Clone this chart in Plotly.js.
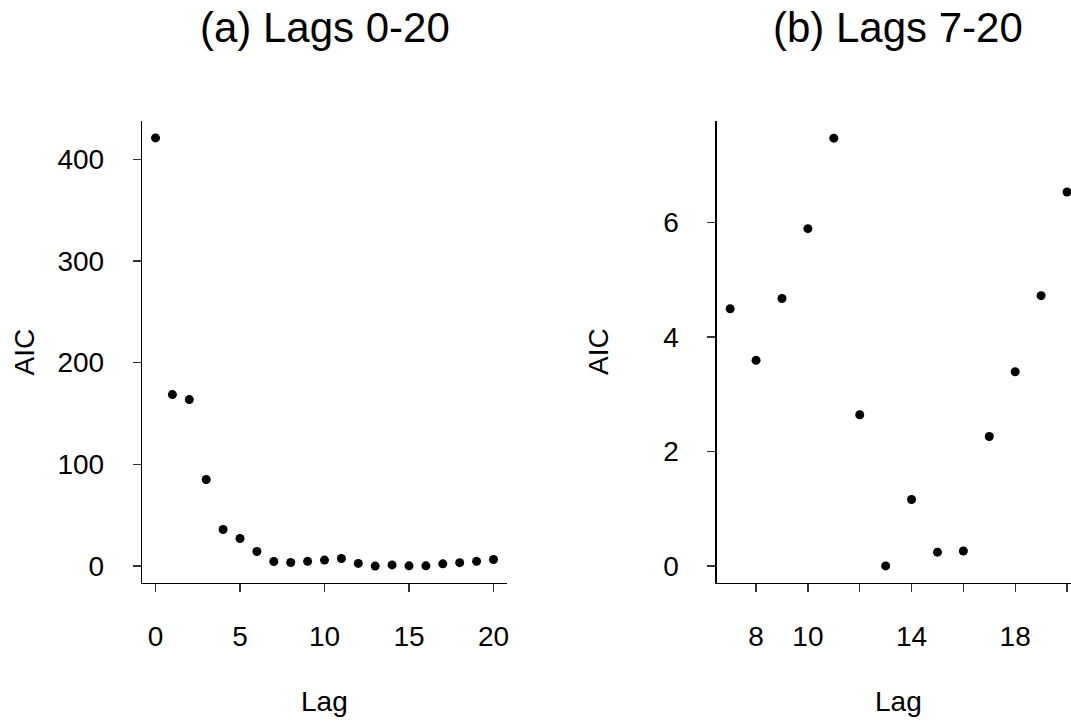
<!DOCTYPE html>
<html>
<head>
<meta charset="utf-8">
<script src="https://cdn.plot.ly/plotly-3.0.1.min.js"></script>
<style>html,body{margin:0;padding:0;background:#fff;}#chart{width:1071px;height:721px;}</style>
</head>
<body>
<div id="chart"></div>
<script>
// ---- data ----
const lagsAll = [0,1,2,3,4,5,6,7,8,9,10,11,12,13,14,15,16,17,18,19,20];
const aicAll = [421, 168.6, 163.7, 85.1, 36.0, 27.1, 14.4, 4.49, 3.59, 4.67, 5.89, 7.47, 2.64, 0, 1.16, 0.24, 0.26, 2.26, 3.39, 4.72, 6.53];
const lagsSub = [7,8,9,10,11,12,13,14,15,16,17,18,19,20];
const aicSub = [4.49, 3.59, 4.67, 5.89, 7.47, 2.64, 0, 1.16, 0.24, 0.26, 2.26, 3.39, 4.72, 6.53];

const xTicksA = [0,5,10,15,20];
const yTicksA = [0,100,200,300,400];
const xTicksB = [8,10,12,14,16,18,20];
const xTickTextB = ['8','10','','14','','18',''];
const yTicksB = [0,2,4,6];

const titleA = '(a) Lags 0-20';
const titleB = '(b) Lags 7-20';
const xLabel = 'Lag';
const yLabel = 'AIC';

// ---- layout helpers ----
const W = 1071, H = 721;
const FONT = 'Liberation Sans, Arial, Helvetica, sans-serif';
const px = v => v / W;
const py = v => 1 - v / H;

const marker = {color: '#000', size: 9};

const traces = [
  {x: lagsAll, y: aicAll, type: 'scatter', mode: 'markers', marker: marker, xaxis: 'x', yaxis: 'y', cliponaxis: false, hoverinfo: 'x+y'},
  {x: lagsSub, y: aicSub, type: 'scatter', mode: 'markers', marker: marker, xaxis: 'x2', yaxis: 'y2', cliponaxis: false, hoverinfo: 'x+y'}
];

const axisCommon = {
  showgrid: false, zeroline: false, showline: true, linecolor: '#000', linewidth: 1.3,
  ticks: 'outside', ticklen: 8, tickwidth: 1.3, tickcolor: '#333',
  tickfont: {family: FONT, size: 28, color: '#000'}, fixedrange: true
};

const layout = {
  width: W, height: H,
  margin: {l: 0, r: 0, t: 0, b: 0},
  paper_bgcolor: '#fff', plot_bgcolor: '#fff',
  showlegend: false,
  font: {family: FONT, color: '#000'},
  xaxis: Object.assign({}, axisCommon, {
    domain: [px(142), px(507)], range: [-0.8, 20.8],
    tickmode: 'array', tickvals: xTicksA, ticktext: xTicksA.map(String),
    anchor: 'y', ticklabelstandoff: 20
  }),
  yaxis: Object.assign({}, axisCommon, {
    domain: [py(583), py(121)], range: [-16.6, 437.6],
    tickmode: 'array', tickvals: yTicksA, ticktext: yTicksA.map(String),
    anchor: 'x', ticklabelstandoff: 23
  }),
  xaxis2: Object.assign({}, axisCommon, {
    domain: [px(716.7), 1], range: [6.48, 20.154],
    tickmode: 'array', tickvals: xTicksB, ticktext: xTickTextB,
    anchor: 'y2', ticklabelstandoff: 20
  }),
  yaxis2: Object.assign({}, axisCommon, {
    domain: [py(583), py(121)], range: [-0.299, 7.77],
    tickmode: 'array', tickvals: yTicksB, ticktext: yTicksB.map(String),
    anchor: 'x2', ticklabelstandoff: 23
  }),
  annotations: [
    {text: titleA, xref: 'paper', yref: 'paper', x: px(324.5), y: py(28), xanchor: 'center', yanchor: 'middle', showarrow: false, font: {family: FONT, size: 42, color: '#000'}},
    {text: titleB, xref: 'paper', yref: 'paper', x: px(898), y: py(28), xanchor: 'center', yanchor: 'middle', showarrow: false, font: {family: FONT, size: 42, color: '#000'}},
    {text: xLabel, xref: 'paper', yref: 'paper', x: px(324.5), y: py(701), xanchor: 'center', yanchor: 'middle', showarrow: false, font: {family: FONT, size: 28, color: '#000'}},
    {text: xLabel, xref: 'paper', yref: 'paper', x: px(898), y: py(701), xanchor: 'center', yanchor: 'middle', showarrow: false, font: {family: FONT, size: 28, color: '#000'}},
    {text: yLabel, xref: 'paper', yref: 'paper', x: px(23.5), y: py(352), xanchor: 'center', yanchor: 'middle', textangle: -90, showarrow: false, font: {family: FONT, size: 28, color: '#000'}},
    {text: yLabel, xref: 'paper', yref: 'paper', x: px(598), y: py(352), xanchor: 'center', yanchor: 'middle', textangle: -90, showarrow: false, font: {family: FONT, size: 28, color: '#000'}}
  ]
};

Plotly.newPlot('chart', traces, layout, {displayModeBar: false, staticPlot: true});
</script>
</body>
</html>
